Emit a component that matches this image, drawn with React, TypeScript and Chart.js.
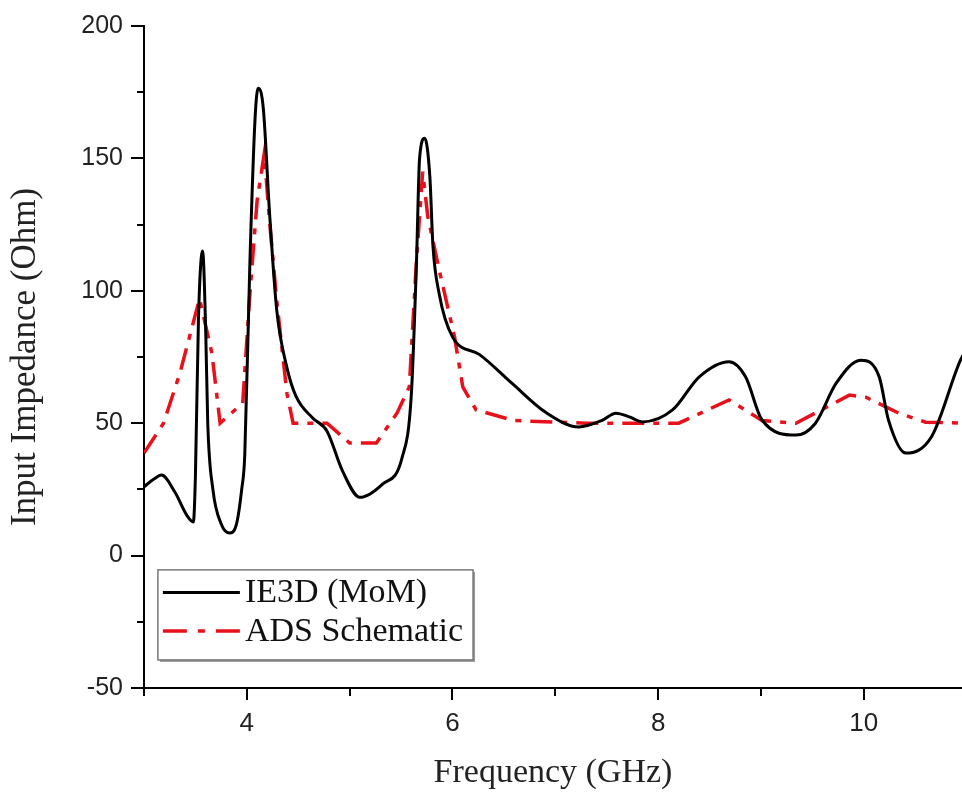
import React, { useEffect, useRef } from 'react';
import { Chart, registerables } from 'chart.js';

Chart.register(...registerables);

// ---- Data ----
const ie3dFreq = [3.0, 3.1, 3.17, 3.3, 3.42, 3.48, 3.5, 3.53, 3.57, 3.6, 3.62, 3.67, 3.75, 3.83, 3.9, 3.95, 3.98, 4.03, 4.08, 4.11, 4.16, 4.22, 4.29, 4.39, 4.48, 4.64, 4.78, 4.93, 5.1, 5.32, 5.51, 5.6, 5.65, 5.68, 5.73, 5.78, 5.81, 5.87, 6.0, 6.26, 6.58, 6.91, 7.23, 7.45, 7.59, 7.72, 7.85, 8.14, 8.4, 8.69, 8.85, 9.01, 9.34, 9.53, 9.73, 9.97, 10.15, 10.24, 10.41, 10.66, 10.94, 11.0];
const ie3dZ = [26, 29, 30.4, 24, 15, 12.7, 30, 90, 115, 85, 50, 25, 12, 8.5, 12, 25, 38, 111, 165, 176.5, 169, 130, 93, 71, 60, 52, 47, 32, 22, 27, 37, 61, 111, 150, 157.6, 143, 117, 99, 82.6, 76, 65, 54, 48.6, 51, 53.8, 52.4, 50.5, 55, 67.5, 73.2, 67.5, 51.2, 45.5, 50, 65, 73.8, 67.5, 51.2, 38.7, 45, 73.8, 78];

const adsFreq = [3.0, 3.19, 3.35, 3.54, 3.66, 3.74, 3.96, 4.03, 4.1, 4.17, 4.22, 4.29, 4.39, 4.45, 4.78, 5.0, 5.26, 5.46, 5.58, 5.65, 5.71, 5.76, 5.87, 6.02, 6.1, 6.23, 6.6, 7.3, 8.2, 8.69, 9.01, 9.34, 9.86, 10.02, 10.34, 10.6, 11.0];
const adsZ = [38.7, 50, 69, 97, 76.5, 50, 57.6, 99, 134, 152, 126.7, 96.5, 61.3, 50, 50, 42.5, 42.5, 53.8, 63.7, 111.5, 145, 128, 108, 82.6, 63.7, 55, 51, 50, 50, 58.8, 51, 50, 60.6, 59.8, 53.8, 50.4, 50];

const seriesLabels = ['IE3D (MoM)', 'ADS Schematic'];
const xMajorTicks = [4, 6, 8, 10];
const yMajorTicks = [-50, 0, 50, 100, 150, 200];
const xTitle = 'Frequency (GHz)';
const yTitle = 'Input Impedance (Ohm)';

const SERIF = '"Liberation Serif", "Times New Roman", serif';
const SANS = '"Liberation Sans", Arial, sans-serif';

const tickMarksPlugin = {
  id: 'tickMarks',
  afterDraw(chart: any) {
    const ctx = chart.ctx;
    const { x, y } = chart.scales;
    const area = chart.chartArea;
    ctx.save();
    ctx.strokeStyle = '#000';
    ctx.lineWidth = 2;
    y.ticks.forEach((t: any) => {
      const py = Math.round(y.getPixelForValue(t.value));
      const len = yMajorTicks.includes(t.value) ? 13 : 7;
      ctx.beginPath();
      ctx.moveTo(area.left, py);
      ctx.lineTo(area.left - len, py);
      ctx.stroke();
    });
    x.ticks.forEach((t: any) => {
      const px = Math.round(x.getPixelForValue(t.value));
      const len = xMajorTicks.includes(t.value) ? 12 : 8;
      ctx.beginPath();
      ctx.moveTo(px, area.bottom);
      ctx.lineTo(px, area.bottom + len);
      ctx.stroke();
    });
    ctx.restore();
  },
};

const legendPlugin = {
  id: 'boxLegend',
  afterDraw(chart: any) {
    const ctx = chart.ctx;
    const { x, y } = chart.scales;
    // anchor the legend box in data space near the lower-left corner
    const left = x.getPixelForValue(3.135);
    const top = y.getPixelForValue(-5.4);
    const right = x.getPixelForValue(6.2);
    const bottom = y.getPixelForValue(-39.4);
    ctx.save();
    ctx.fillStyle = '#9a9a9a';
    ctx.fillRect(left + 2, top + 2, right - left, bottom - top);
    ctx.fillStyle = '#fff';
    ctx.fillRect(left, top, right - left, bottom - top);
    ctx.strokeStyle = '#777';
    ctx.lineWidth = 1.5;
    ctx.strokeRect(left, top, right - left, bottom - top);
    const rows = [top + (bottom - top) * 0.25, top + (bottom - top) * 0.68];
    chart.data.datasets.forEach((ds: any, i: number) => {
      const ry = rows[i];
      ctx.beginPath();
      ctx.strokeStyle = ds.borderColor;
      ctx.lineWidth = ds.borderWidth;
      ctx.setLineDash(i === 1 ? [24, 11, 7, 11] : []);
      ctx.moveTo(left + 5, ry);
      ctx.lineTo(left + 82, ry);
      ctx.stroke();
      ctx.setLineDash([]);
      ctx.fillStyle = '#111';
      ctx.font = `34px ${SERIF}`;
      ctx.textBaseline = 'middle';
      ctx.textAlign = 'left';
      ctx.fillText(ds.label, left + 87, ry + 1);
    });
    ctx.restore();
  },
};

export default function App() {
  const canvasRef = useRef<HTMLCanvasElement | null>(null);

  useEffect(() => {
    if (!canvasRef.current) return;
    const chart = new Chart(canvasRef.current, {
      type: 'line',
      data: {
        datasets: [
          {
            label: seriesLabels[0],
            data: ie3dFreq.map((f, i) => ({ x: f, y: ie3dZ[i] })),
            borderColor: '#000000',
            borderWidth: 3,
            pointRadius: 0,
            cubicInterpolationMode: 'monotone',
            fill: false,
          },
          {
            label: seriesLabels[1],
            data: adsFreq.map((f, i) => ({ x: f, y: adsZ[i] })),
            borderColor: '#e8101a',
            borderWidth: 3.5,
            borderDash: [22, 9, 6, 9],
            pointRadius: 0,
            tension: 0,
            fill: false,
          },
        ],
      },
      options: {
        responsive: false,
        animation: false,
        devicePixelRatio: 1,
        layout: { padding: { top: 26, right: 0, left: 0, bottom: 0 } },
        plugins: {
          legend: { display: false },
          tooltip: { enabled: false },
        },
        scales: {
          x: {
            type: 'linear',
            min: 3,
            max: 10.955,
            ticks: {
              stepSize: 1,
              includeBounds: false,
              autoSkip: false,
              maxRotation: 0,
              padding: 20,
              color: '#222',
              font: { family: SANS, size: 26 },
              callback: (v: any) => (xMajorTicks.includes(Number(v)) ? String(v) : ''),
            },
            grid: { display: true, drawOnChartArea: false, drawTicks: false },
            border: { display: true, color: '#000', width: 2 },
            title: {
              display: true,
              text: xTitle,
              color: '#222',
              font: { family: SERIF, size: 34 },
              padding: { top: 0, bottom: 0 },
            },
            afterFit: (s: any) => {
              s.height = 105;
              s.paddingLeft = 0;
              s.paddingRight = 0;
            },
          },
          y: {
            type: 'linear',
            min: -50,
            max: 200,
            ticks: {
              stepSize: 25,
              autoSkip: false,
              padding: 21,
              color: '#222',
              font: { family: SANS, size: 25 },
              callback: (v: any) => (yMajorTicks.includes(Number(v)) ? String(v) : ''),
            },
            grid: { display: true, drawOnChartArea: false, drawTicks: false },
            border: { display: true, color: '#000', width: 2 },
            title: {
              display: true,
              text: yTitle,
              color: '#222',
              font: { family: SERIF, size: 35 },
              padding: { top: 5, bottom: 0 },
            },
            afterFit: (s: any) => {
              s.width = 144;
              s.paddingTop = 0;
              s.paddingBottom = 0;
            },
          },
        },
      },
      plugins: [tickMarksPlugin, legendPlugin],
    } as any);
    return () => chart.destroy();
  }, []);

  return (
    <div style={{ position: 'absolute', left: 0, top: 0, width: 962, height: 793, background: '#fff' }}>
      <canvas ref={canvasRef} width={962} height={793} style={{ display: 'block' }} />
    </div>
  );
}
